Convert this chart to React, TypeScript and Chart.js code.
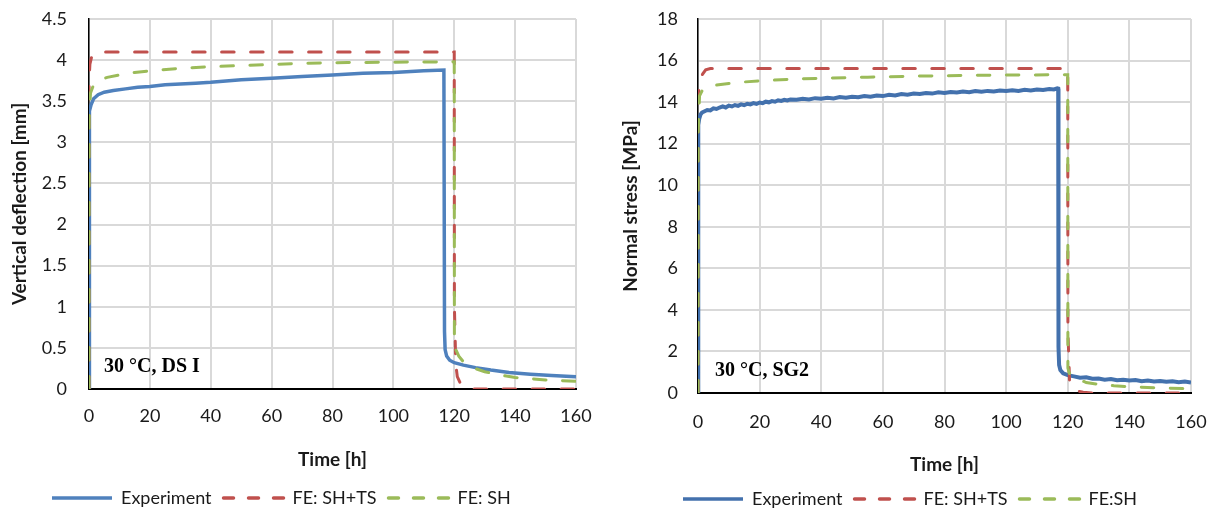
import React, { useEffect, useRef } from 'react';
import { Chart, registerables } from 'chart.js';

Chart.register(...registerables);

// ---------- Left panel: vertical deflection [mm] ----------
const expDeflT = [0, 0.02, 0.1, 0.3, 0.7, 1.5, 3, 5, 8, 12, 16, 20, 25, 30, 35, 40, 50, 60, 70, 80, 90, 100, 110, 116.6, 116.8, 117.0, 117.5, 118.5, 120, 123, 127, 132, 138, 145, 152, 160];
const expDeflV = [0, 2.6, 3.2, 3.38, 3.46, 3.53, 3.58, 3.61, 3.63, 3.65, 3.67, 3.68, 3.7, 3.71, 3.72, 3.73, 3.76, 3.78, 3.8, 3.82, 3.84, 3.85, 3.87, 3.88, 0.7, 0.48, 0.4, 0.35, 0.32, 0.29, 0.26, 0.23, 0.2, 0.18, 0.165, 0.15];

const shtsDeflT = [0, 0.02, 0.3, 0.8, 1.5, 2.5, 4, 120, 120.05, 120.5, 121, 122, 123.5, 126, 160];
const shtsDeflV = [0, 3.75, 3.95, 4.03, 4.07, 4.09, 4.1, 4.1, 1.0, 0.3, 0.15, 0.07, 0.03, 0, 0];

const shDeflT = [0, 0.05, 0.5, 1.5, 3, 6, 10, 15, 20, 30, 40, 55, 70, 85, 100, 120, 120.05, 120.5, 121.5, 123, 126, 130, 135, 140, 150, 160];
const shDeflV = [0, 3.3, 3.6, 3.7, 3.75, 3.79, 3.82, 3.85, 3.87, 3.9, 3.92, 3.94, 3.96, 3.97, 3.975, 3.98, 0.6, 0.48, 0.4, 0.33, 0.26, 0.21, 0.17, 0.14, 0.11, 0.095];

// ---------- Right panel: normal stress [MPa] ----------
const expStressT = [0, 0.02, 0.15, 0.4, 0.8, 1.3, 2, 3, 4, 5, 6, 7, 8, 9, 10, 11, 12, 13, 14, 15, 16, 17, 18, 19, 20, 21, 22, 23, 24, 25, 26, 27, 28, 29, 30, 32, 34, 36, 38, 40, 42, 44, 46, 48, 50, 52, 54, 56, 58, 60, 62, 64, 66, 68, 70, 72, 74, 76, 78, 80, 82, 84, 86, 88, 90, 92, 94, 96, 98, 100, 102, 104, 106, 108, 110, 112, 114, 115.5, 116.6, 116.9, 117.0, 117.2, 117.6, 118.5, 120, 122, 124, 126, 128, 130, 132, 134, 136, 138, 140, 142, 144, 146, 148, 150, 152, 154, 156, 158, 160];
const expStressV = [0, 12.2, 12.9, 13.2, 13.4, 13.5, 13.55, 13.62, 13.6, 13.7, 13.67, 13.74, 13.79, 13.74, 13.83, 13.79, 13.86, 13.82, 13.89, 13.85, 13.92, 13.89, 13.95, 13.91, 13.98, 13.95, 14.02, 13.99, 14.05, 14.02, 14.09, 14.06, 14.11, 14.08, 14.13, 14.11, 14.16, 14.13, 14.19, 14.16, 14.21, 14.18, 14.24, 14.21, 14.26, 14.23, 14.29, 14.26, 14.32, 14.29, 14.35, 14.32, 14.39, 14.36, 14.41, 14.39, 14.44, 14.41, 14.47, 14.44, 14.49, 14.46, 14.51, 14.48, 14.53, 14.5, 14.54, 14.51, 14.56, 14.53, 14.57, 14.54, 14.59, 14.56, 14.61, 14.58, 14.63, 14.61, 14.66, 14.65, 2.2, 1.35, 1.1, 0.95, 0.86, 0.8, 0.74, 0.76, 0.69, 0.7, 0.64, 0.67, 0.61, 0.64, 0.6, 0.62, 0.57, 0.6, 0.55, 0.58, 0.54, 0.57, 0.52, 0.55, 0.5];

const shtsStressT = [0, 0.02, 0.3, 0.8, 1.5, 2.5, 4, 120, 120.05, 120.6, 121.5, 123, 125, 128, 160];
const shtsStressV = [0, 13.5, 14.6, 15.1, 15.35, 15.55, 15.62, 15.62, 3, 0.5, 0.25, 0.1, 0.04, 0, 0];

const shStressT = [0, 0.05, 0.5, 1.5, 3, 6, 10, 15, 20, 30, 40, 55, 70, 85, 100, 120, 120.05, 120.5, 121.5, 123, 126, 130, 135, 140, 150, 160];
const shStressV = [0, 12.5, 14.3, 14.6, 14.72, 14.82, 14.9, 14.97, 15.02, 15.1, 15.15, 15.2, 15.25, 15.28, 15.3, 15.32, 1.2, 0.95, 0.8, 0.7, 0.5, 0.42, 0.35, 0.3, 0.24, 0.2];

const seriesLabelsLeft = ['Experiment', 'FE: SH+TS', 'FE: SH'];
const seriesLabelsRight = ['Experiment', 'FE: SH+TS', 'FE:SH'];

const xTitle = 'Time [h]';
const xMax = 160;
const xStep = 20;

const TEXT = '#1a1a1a';
const RED = '#C0504D';
const GREEN = '#9BBB59';

const pts = (t: number[], v: number[]) => t.map((x, i) => ({ x, y: v[i] }));

type PanelCfg = {
  left: number;
  width: number;
  yMax: number;
  yStep: number;
  yTitle: string;
  note: string;
  labels: string[];
  exp: { x: number; y: number }[];
  shts: { x: number; y: number }[];
  sh: { x: number; y: number }[];
  blue: string;
  blueWidth: number;
  padRight: number;
  yAxisWidth: number;
  xAxisHeight: number;
  yTickPad: number;
  xTickPad: number;
  yTitlePad: number;
  xTitlePad: number;
  legendLeft: number;
  legendTop: number;
  noteDx: number;
  noteDy: number;
};

const zeroPad = (s: any) => {
  s.paddingTop = 0;
  s.paddingBottom = 0;
  s.paddingLeft = 0;
  s.paddingRight = 0;
};

function Panel({ cfg }: { cfg: PanelCfg }) {
  const ref = useRef<HTMLCanvasElement>(null);
  useEffect(() => {
    const legendDash = [[], [10, 15], [10, 15]];
    const tickFont = { family: 'Lato', size: 18 };
    const titleFont = { family: 'Lato', size: 19, weight: 'bold' as const };
    const chart = new Chart(ref.current!, {
      type: 'line',
      data: {
        datasets: [
          {
            label: cfg.labels[0],
            data: cfg.exp,
            borderColor: cfg.blue,
            backgroundColor: cfg.blue,
            borderWidth: cfg.blueWidth,
            pointRadius: 0,
            tension: 0,
            fill: false,
            order: 3,
          },
          {
            label: cfg.labels[1],
            data: cfg.shts,
            borderColor: RED,
            backgroundColor: RED,
            borderWidth: 3,
            borderDash: [12.5, 16.5],
            borderCapStyle: 'round',
            pointRadius: 0,
            tension: 0,
            fill: false,
            order: 2,
          },
          {
            label: cfg.labels[2],
            data: cfg.sh,
            borderColor: GREEN,
            backgroundColor: GREEN,
            borderWidth: 3,
            borderDash: [12.5, 16.5],
            borderCapStyle: 'round',
            pointRadius: 0,
            tension: 0,
            fill: false,
            order: 1,
          },
        ],
      },
      options: {
        animation: false,
        responsive: false,
        events: [],
        layout: { padding: { top: 19, right: cfg.padRight, left: 0, bottom: 0 } },
        scales: {
          x: {
            type: 'linear',
            min: 0,
            max: xMax,
            ticks: { stepSize: xStep, padding: cfg.xTickPad, color: TEXT, font: tickFont, maxRotation: 0, autoSkip: false },
            grid: { color: '#d9d9d9', lineWidth: 2, drawTicks: false },
            border: { color: '#000', width: 2 },
            title: { display: true, text: xTitle, color: TEXT, font: titleFont, padding: { top: 0, bottom: cfg.xTitlePad } },
            afterFit: (s: any) => { s.height = cfg.xAxisHeight; zeroPad(s); },
          },
          y: {
            type: 'linear',
            min: 0,
            max: cfg.yMax,
            ticks: { stepSize: cfg.yStep, padding: cfg.yTickPad, color: TEXT, font: tickFont, callback: (v: any) => String(Number(v)) },
            grid: { color: '#d9d9d9', lineWidth: 2, drawTicks: false },
            border: { color: '#000', width: 1.5 },
            title: { display: true, text: cfg.yTitle, color: TEXT, font: titleFont, padding: { top: cfg.yTitlePad, bottom: 0 } },
            afterFit: (s: any) => { s.width = cfg.yAxisWidth; zeroPad(s); },
          },
        },
        plugins: {
          tooltip: { enabled: false },
          legend: {
            display: true,
            position: 'bottom',
            align: 'start',
            maxHeight: 20,
            labels: {
              usePointStyle: true,
              pointStyle: 'line',
              pointStyleWidth: 60,
              boxHeight: 18,
              padding: 12,
              color: TEXT,
              font: { family: 'Lato', size: 18 },
              generateLabels: (ch: any) =>
                ch.data.datasets.map((ds: any, i: number) => ({
                  text: ds.label,
                  datasetIndex: i,
                  fillStyle: ds.borderColor,
                  strokeStyle: ds.borderColor,
                  lineWidth: 3.5,
                  lineDash: legendDash[i],
                  lineCap: i === 0 ? 'butt' : 'round',
                  pointStyle: 'line',
                  hidden: false,
                  fontColor: TEXT,
                })),
            },
          },
        },
      },
      plugins: [
        {
          id: 'placeAndNote',
          afterLayout(ch: any) {
            const lg = ch.legend;
            if (lg) {
              const w = lg.right - lg.left;
              lg.left = cfg.legendLeft;
              lg.right = cfg.legendLeft + w;
              lg.top = cfg.legendTop;
            }
          },
          afterDraw(ch: any) {
            const { ctx, chartArea } = ch;
            ctx.save();
            ctx.font = 'bold 20px "Liberation Serif", "Times New Roman", serif';
            ctx.fillStyle = '#000';
            ctx.textAlign = 'left';
            ctx.textBaseline = 'alphabetic';
            ctx.fillText(cfg.note, chartArea.left + cfg.noteDx, chartArea.bottom - cfg.noteDy);
            ctx.restore();
          },
        },
      ],
    } as any);
    return () => chart.destroy();
  }, [cfg]);
  return (
    <div style={{ position: 'absolute', left: cfg.left, top: 0, width: cfg.width, height: 512 }}>
      <canvas ref={ref} width={cfg.width} height={512} style={{ width: cfg.width, height: 512, display: 'block' }} />
    </div>
  );
}

const leftCfg: PanelCfg = {
  left: 0,
  width: 605,
  yMax: 4.5,
  yStep: 0.5,
  yTitle: 'Vertical deflection [mm]',
  note: '30 °C, DS I',
  labels: seriesLabelsLeft,
  exp: pts(expDeflT, expDeflV),
  shts: pts(shtsDeflT, shtsDeflV),
  sh: pts(shDeflT, shDeflV),
  blue: '#4F81BD',
  blueWidth: 3.5,
  padRight: 29,
  yAxisWidth: 89,
  xAxisHeight: 103,
  yTickPad: 22,
  xTickPad: 16,
  yTitlePad: 8,
  xTitlePad: 21,
  legendLeft: 40,
  legendTop: 477,
  noteDx: 15,
  noteDy: 17,
};

const rightCfg: PanelCfg = {
  left: 605,
  width: 613,
  yMax: 18,
  yStep: 2,
  yTitle: 'Normal stress [MPa]',
  note: '30 °C, SG2',
  labels: seriesLabelsRight,
  exp: pts(expStressT, expStressV),
  shts: pts(shtsStressT, shtsStressV),
  sh: pts(shStressT, shStressV),
  blue: '#4371AD',
  blueWidth: 4,
  padRight: 27,
  yAxisWidth: 93,
  xAxisHeight: 99,
  yTickPad: 20,
  xTickPad: 18,
  yTitlePad: 14,
  xTitlePad: 16,
  legendLeft: 66,
  legendTop: 478,
  noteDx: 17,
  noteDy: 17,
};

export default function App() {
  return (
    <div style={{ position: 'absolute', left: 0, top: 0, width: 1218, height: 512, overflow: 'hidden', background: '#fff' }}>
      <Panel cfg={leftCfg} />
      <Panel cfg={rightCfg} />
    </div>
  );
}
